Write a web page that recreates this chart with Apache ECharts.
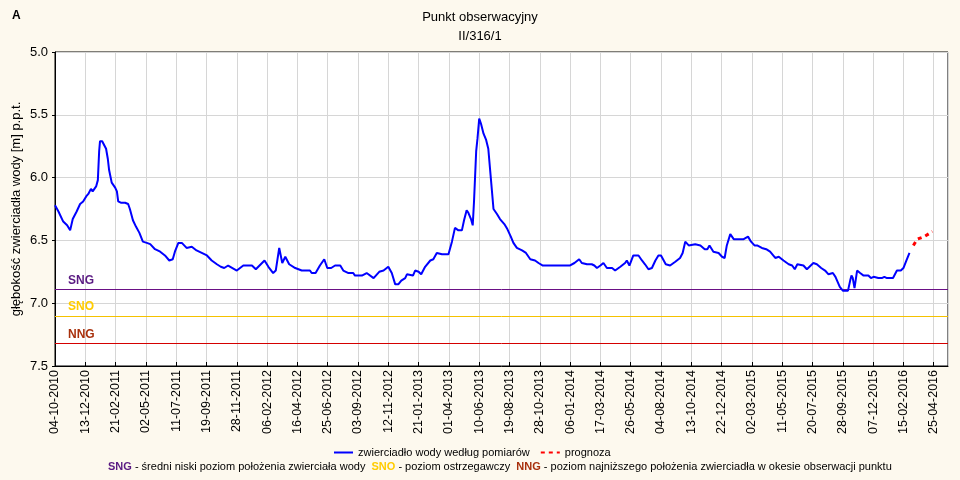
<!DOCTYPE html>
<html>
<head>
<meta charset="utf-8">
<script src="https://cdn.jsdelivr.net/npm/echarts@6/dist/echarts.min.js"></script>
<style>
html,body{margin:0;padding:0;background:#fdf9ee;}
#chart{width:960px;height:480px;}
</style>
</head>
<body>
<div id="chart"></div>
<script>
// Day offsets counted from 04-10-2010 (first axis tick)
const startDate = Date.UTC(2010, 9, 4);
const axisEndDay = 2063;
const tickStepDays = 70;

// Measured groundwater depth [m p.p.t.]
const measuredDays = [
  0,8,19,28,35,41,50,58,65,72,
  77,83,87,90,95,99,102,104,109,118,
  122,125,131,139,143,146,152,162,169,173,
  180,187,195,203,212,220,231,243,254,264,
  272,277,285,293,304,316,327,339,351,362,
  374,383,391,400,420,435,455,464,484,493,
  504,510,518,525,532,541,555,570,589,593,
  602,612,622,629,638,647,659,666,678,689,
  693,709,720,736,749,759,770,778,786,793,
  800,809,813,827,832,840,846,855,867,874,
  882,894,909,917,924,932,940,945,951,955,
  961,965,968,973,976,980,984,990,996,1001,
  1007,1013,1021,1028,1038,1045,1053,1059,1067,1079,
  1088,1098,1109,1117,1127,1144,1167,1189,1200,1211,
  1217,1229,1240,1246,1252,1260,1267,1275,1287,1294,
  1306,1317,1321,1327,1336,1348,1356,1363,1371,1379,
  1387,1394,1400,1411,1421,1433,1444,1450,1456,1464,
  1479,1491,1501,1507,1512,1521,1533,1541,1547,1552,
  1560,1568,1579,1591,1601,1608,1616,1622,1633,1643,
  1652,1664,1672,1683,1695,1703,1709,1715,1729,1737,
  1743,1752,1760,1770,1779,1787,1797,1803,1813,1820,
  1832,1837,1840,1843,1847,1853,1860,1868,1879,1885,
  1891,1902,1910,1916,1922,1936,1945,1954,1960,1967,
  1974
];
const measuredDepth = [
  6.22,6.27,6.35,6.38,6.42,6.33,6.27,6.21,6.19,6.15,
  6.13,6.09,6.11,6.12,6.07,6.02,5.79,5.71,5.71,5.77,
  5.85,5.94,6.04,6.08,6.11,6.19,6.20,6.20,6.21,6.25,
  6.34,6.39,6.44,6.51,6.52,6.53,6.57,6.59,6.62,6.66,
  6.65,6.59,6.52,6.52,6.56,6.55,6.58,6.60,6.62,6.66,
  6.69,6.71,6.72,6.70,6.74,6.70,6.70,6.73,6.66,6.71,
  6.76,6.74,6.56,6.68,6.63,6.69,6.72,6.74,6.74,6.76,
  6.76,6.70,6.65,6.72,6.72,6.70,6.70,6.74,6.76,6.76,
  6.78,6.78,6.76,6.80,6.75,6.74,6.71,6.76,6.85,6.85,
  6.82,6.80,6.77,6.78,6.74,6.75,6.77,6.71,6.66,6.65,
  6.60,6.61,6.61,6.51,6.40,6.42,6.42,6.34,6.26,6.28,
  6.33,6.38,6.19,5.79,5.69,5.53,5.57,5.65,5.70,5.77,
  6.01,6.25,6.29,6.33,6.37,6.41,6.47,6.52,6.56,6.58,
  6.60,6.65,6.66,6.68,6.70,6.70,6.70,6.70,6.68,6.65,
  6.68,6.69,6.69,6.70,6.72,6.70,6.68,6.72,6.72,6.74,
  6.71,6.68,6.66,6.70,6.62,6.62,6.66,6.69,6.73,6.72,
  6.66,6.62,6.62,6.69,6.70,6.67,6.64,6.60,6.51,6.54,
  6.53,6.54,6.57,6.57,6.54,6.59,6.60,6.63,6.64,6.54,
  6.45,6.49,6.49,6.49,6.47,6.51,6.54,6.54,6.56,6.57,
  6.59,6.64,6.63,6.66,6.69,6.70,6.73,6.69,6.70,6.73,
  6.71,6.68,6.69,6.72,6.74,6.77,6.76,6.79,6.87,6.90,
  6.90,6.82,6.78,6.80,6.88,6.74,6.76,6.78,6.78,6.80,
  6.79,6.80,6.80,6.79,6.80,6.80,6.74,6.74,6.72,6.66,
  6.60
];

// Forecast
const forecastDays = [1983, 1992, 2008, 2027];
const forecastDepth = [6.54, 6.49, 6.47, 6.43];

// Reference levels
const levelNames = ['SNG', 'SNO', 'NNG'];
const levelValues = [6.89, 7.10, 7.32];
const levelLineColors = ['#6a0f85', '#f5c200', '#d40000'];
const levelTextColors = ['#5a1a82', '#ffcc00', '#a8300c'];

const yTicks = [5.0, 5.5, 6.0, 6.5, 7.0, 7.5];

function fmtDate(d) {
  const dt = new Date(startDate + d * 86400000);
  const dd = String(dt.getUTCDate()).padStart(2, '0');
  const mm = String(dt.getUTCMonth() + 1).padStart(2, '0');
  return dd + '-' + mm + '-' + dt.getUTCFullYear();
}

const measured = measuredDays.map((d, i) => [d, measuredDepth[i]]);
const forecast = forecastDays.map((d, i) => [d, forecastDepth[i]]);

const FONT = '"Liberation Sans", Arial, sans-serif';

const chart = echarts.init(document.getElementById('chart'), null, {renderer: 'canvas'});
chart.setOption({
  backgroundColor: '#fdf9ee',
  animation: false,
  textStyle: {fontFamily: FONT},
  title: [
    {text: 'Punkt obserwacyjny', left: 'center', top: 6,
     textStyle: {fontSize: 13, fontWeight: 'normal', color: '#000', fontFamily: FONT}},
    {text: 'II/316/1', left: 'center', top: 25,
     textStyle: {fontSize: 13, fontWeight: 'normal', color: '#000', fontFamily: FONT}},
    {text: 'A', left: 7, top: 5,
     textStyle: {fontSize: 12, fontWeight: 'bold', color: '#000', fontFamily: FONT}},
    {text: '{s|SNG}{t| - średni niski poziom położenia zwierciała wody  }{o|SNO}{t| - poziom ostrzegawczy  }{n|NNG}{t| - poziom najniższego położenia zwierciadła w okesie obserwacji punktu}',
     left: 103, top: 456,
     textStyle: {
       fontSize: 11, fontWeight: 'normal', color: '#000', fontFamily: FONT,
       rich: {
         s: {color: levelTextColors[0], fontWeight: 'bold', fontSize: 11, fontFamily: FONT},
         o: {color: levelTextColors[1], fontWeight: 'bold', fontSize: 11, fontFamily: FONT},
         n: {color: levelTextColors[2], fontWeight: 'bold', fontSize: 11, fontFamily: FONT},
         t: {color: '#000', fontSize: 11, fontFamily: FONT}
       }
     }}
  ],
  legend: {
    left: 328, top: 442,
    itemWidth: 19, itemHeight: 10, itemGap: 10,
    itemStyle: {opacity: 0},
    textStyle: {fontSize: 11, color: '#000', fontFamily: FONT},
    data: ['zwierciadło wody według pomiarów', 'prognoza']
  },
  grid: {
    left: 55, right: 12, top: 52, bottom: 114,
    outerBoundsMode: 'none', containLabel: false,
    show: true, backgroundColor: '#ffffff', borderColor: '#000', borderWidth: 1
  },
  xAxis: {
    type: 'value', min: 0, max: axisEndDay, interval: tickStepDays,
    axisLine: {show: true, lineStyle: {color: '#000', width: 1}},
    axisTick: {show: true, inside: true, length: 4, lineStyle: {color: '#000'}},
    splitLine: {show: true, lineStyle: {color: '#d6d6d6', width: 1}},
    axisLabel: {
      rotate: 90, margin: 4, fontSize: 12.5, color: '#000', fontFamily: FONT,
      showMaxLabel: false,
      formatter: v => (v % tickStepDays === 0 ? fmtDate(v) : '')
    }
  },
  yAxis: {
    type: 'value', inverse: true, min: yTicks[0], max: yTicks[yTicks.length - 1], interval: 0.5,
    name: 'głębokość zwierciadła wody [m] p.p.t.',
    nameLocation: 'middle', nameGap: 32, nameRotate: 90, nameMoveOverlap: false,
    nameTextStyle: {fontSize: 13, color: '#000', fontFamily: FONT},
    axisLine: {show: true, lineStyle: {color: '#000', width: 1}},
    axisTick: {show: true, length: 3, lineStyle: {color: '#000'}},
    splitLine: {show: true, lineStyle: {color: '#d6d6d6', width: 1}},
    axisLabel: {fontSize: 13, color: '#000', margin: 7, fontFamily: FONT,
      formatter: v => v.toFixed(1)}
  },
  series: [
    {
      name: 'zwierciadło wody według pomiarów',
      type: 'line', data: measured, symbol: 'none', showSymbol: false,
      lineStyle: {color: '#0000ff', width: 2}, itemStyle: {color: '#0000ff'},
      z: 5,
      markLine: {
        silent: true, symbol: 'none', z: 3,
        data: levelNames.map((n, i) => ({
          yAxis: levelValues[i],
          lineStyle: {color: levelLineColors[i], width: 1, type: 'solid'},
          label: {
            show: true, formatter: n, position: 'insideStartTop', distance: [13, 3],
            color: levelTextColors[i], fontWeight: 'bold', fontSize: 12, fontFamily: FONT
          }
        }))
      }
    },
    {
      name: 'prognoza',
      type: 'line', data: forecast, symbol: 'none', showSymbol: false,
      lineStyle: {color: '#ff0000', width: 3, type: [4, 4]}, itemStyle: {color: '#ff0000'},
      z: 6
    }
  ]
});
</script>
</body>
</html>
